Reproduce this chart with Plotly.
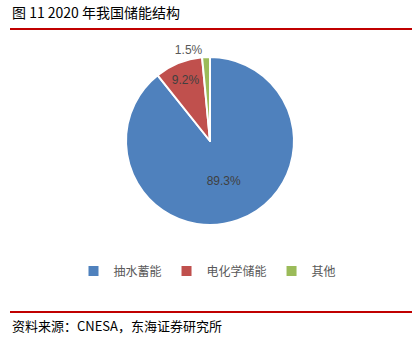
import plotly.graph_objects as go

labels = ["抽水蓄能", "电化学储能", "其他"]
values = [89.3, 9.2, 1.5]
colors = ["#4F81BD", "#C0504D", "#9BBB59"]
title_text = "图 11 2020 年我国储能结构"
source_text = "资料来源：CNESA，东海证券研究所"

W, H = 415, 342
cx, cy, r = 210, 141, 84

fig = go.Figure(go.Pie(
    labels=labels, values=values, sort=False, direction="clockwise", rotation=0,
    marker=dict(colors=colors, line=dict(color="white", width=2)),
    texttemplate="%{percent:.1%}",
    textposition=["inside", "inside", "outside"],
    insidetextorientation="horizontal",
    textfont=dict(family="Liberation Sans, Arial", size=12, color="#595959"),
    outsidetextfont=dict(family="Liberation Sans, Arial", size=12, color="#595959"),
    insidetextfont=dict(family="Liberation Sans, Arial", size=12, color="#404040"),
    domain=dict(x=[(cx - r) / W, (cx + r) / W], y=[(H - cy - r) / H, (H - cy + r) / H]),
    hoverinfo="label+percent",
))

fig.update_layout(
    width=W, height=H,
    margin=dict(l=0, r=0, t=0, b=0),
    paper_bgcolor="white", plot_bgcolor="white",
    showlegend=True,
    legend=dict(orientation="h", x=0.5, xanchor="center", y=(H - 271) / H, yanchor="middle",
                font=dict(family="Noto Sans CJK SC", size=12, color="#595959"),
                itemwidth=30, traceorder="normal"),
    shapes=[
        dict(type="line", xref="paper", yref="paper", x0=10 / W, x1=412 / W, y0=(H - 29) / H, y1=(H - 29) / H,
             line=dict(color="#C00000", width=2)),
        dict(type="line", xref="paper", yref="paper", x0=10 / W, x1=412 / W, y0=(H - 312) / H, y1=(H - 312) / H,
             line=dict(color="#C00000", width=2)),
    ],
    annotations=[
        dict(text=title_text, xref="paper", yref="paper", x=10 / W, y=(H - 12) / H, xanchor="left", yanchor="middle",
             showarrow=False, font=dict(family="Noto Sans CJK SC", size=14, color="#000000")),
        dict(text=source_text, xref="paper", yref="paper", x=10 / W, y=(H - 325) / H, xanchor="left", yanchor="middle",
             showarrow=False, font=dict(family="Noto Sans CJK SC", size=13, color="#000000")),
    ],
)

fig.write_html("out.html")
